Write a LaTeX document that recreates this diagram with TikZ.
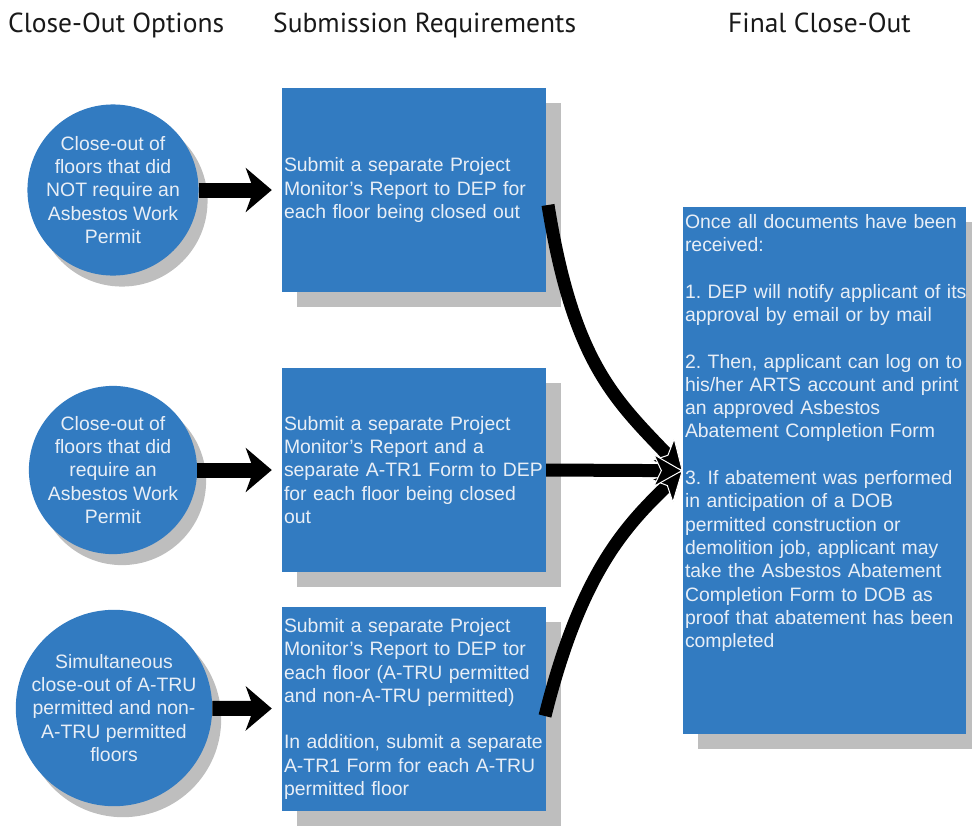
\documentclass[tikz,border=0pt]{standalone}
\usepackage{fontspec}
\setmainfont{Liberation Sans}
\newfontfamily\headfont{PT Sans}
\usetikzlibrary{arrows.meta, shadows}
\frenchspacing

\definecolor{boxblue}{RGB}{50,123,193}
\definecolor{boxtext}{RGB}{232,238,246}
\definecolor{shadowgray}{RGB}{190,190,190}

\begin{document}
\begin{tikzpicture}[x=1pt,y=-1pt,
    every node/.style={font=\fontsize{19.4}{23.3}\selectfont},
    head/.style={font=\headfont\fontsize{27.5}{30}\selectfont,anchor=base west,inner sep=0pt,text=black!90},
    option node/.style={circle,fill=boxblue,text=boxtext,minimum size=168pt,inner sep=0pt,align=center,
      drop shadow={shadow xshift=9pt,shadow yshift=-11pt,fill=shadowgray,opacity=1}},
    req node/.style={rectangle,fill=boxblue,text=boxtext,text width=260pt,inner xsep=2pt,
      minimum height=204pt,align=left,
      drop shadow={shadow xshift=15pt,shadow yshift=-15pt,fill=shadowgray,opacity=1}},
    final node/.style={req node,text width=279pt,anchor=north,inner ysep=3pt,
      text height=18pt,text depth=503pt},
    feed arrow/.style={line width=15pt,-{Stealth[length=26pt,width=44pt,inset=8pt]},shorten >=10pt},
    merge arrow/.style={line width=13pt,
      -{Stealth[length=30pt,width=34pt,inset=8pt,line width=1pt,color=white,fill=black]}}]

  \useasboundingbox (0,0) rectangle (972,825);

  % column titles
  \node[head] (h1) at (8,32) {Close-Out Options};
  \node[head] (h2) at (273,32) {Submission Requirements};
  \node[head] (h3) at (728,32) {Final Close-Out};

  % close-out options
  \node[option node] (o1) at (113,190) {Close-out of\\floors that did\\NOT require an\\Asbestos Work\\Permit};
  \node[option node] (o2) at (113,470) {Close-out of\\floors that did\\require an\\Asbestos Work\\Permit};
  \node[option node] (o3) at (114,708) {Simultaneous\\close-out of A-TRU\\permitted and non-\\A-TRU permitted\\floors};

  % submission requirements
  \node[req node] (r1) at (414,190) {Submit a separate Project\\Monitor’s Report to DEP for\\each floor being closed out};
  \node[req node] (r2) at (414,470) {Submit a separate Project\\Monitor’s Report and a\\separate A-TR1 Form to DEP\\for each floor being closed\\out};
  \node[req node] (r3) at (414,709) {Submit a separate Project\\Monitor’s Report to DEP tor\\each floor (A-TRU permitted\\and non-A-TRU permitted)\\[23.3pt]In addition, submit a separate\\A-TR1 Form for each A-TRU\\permitted floor};

  % final close-out
  \node[final node] (fin) at (824.5,207) {Once all documents have been\\received:\\[23.3pt]\mbox{1. DEP will notify applicant of its}\\approval by email or by mail\\[23.3pt]2. Then, applicant can log on to\\his/her ARTS account and print\\an approved Asbestos\\Abatement Completion Form\\[23.3pt]3. If abatement was performed\\in anticipation of a DOB\\permitted construction or\\demolition job, applicant may\\take the Asbestos Abatement\\Completion Form to DOB as\\proof that abatement has been\\completed};

  \path[feed arrow]
    (o1) edge (r1)
    (o2) edge (r2)
    (o3) edge (r3);

  \coordinate (s1) at (548,205);
  \coordinate (s3) at (545,716);
  \draw[merge arrow] (s1) .. controls (573,360) and (613,398) .. (fin.west);
  \draw[merge arrow] (s3) .. controls (580,576) and (623,528) .. (fin.west);
  \draw[merge arrow] (r2.east) -- (fin.west);

\end{tikzpicture}
\end{document}
